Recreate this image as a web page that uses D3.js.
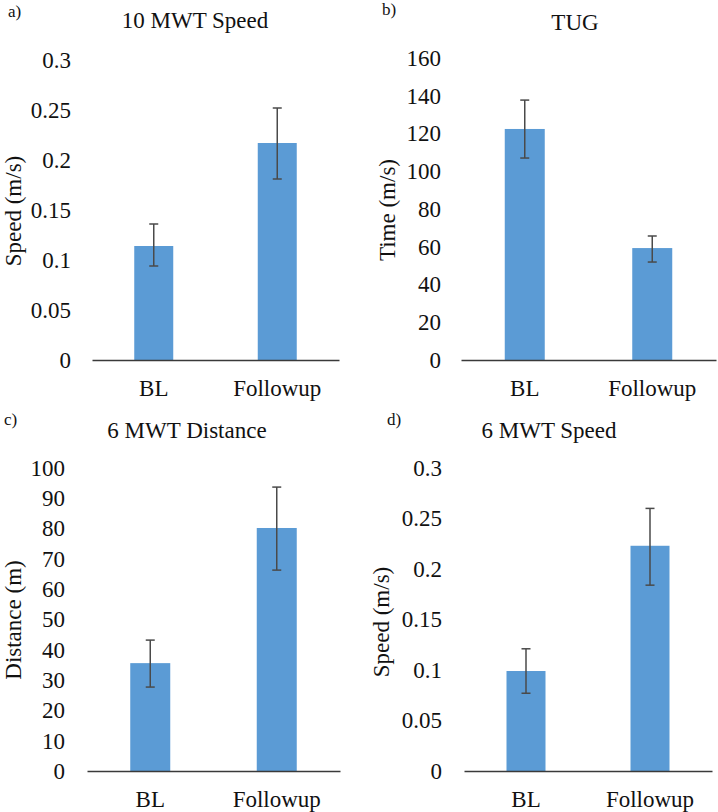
<!DOCTYPE html>
<html>
<head>
<meta charset="utf-8">
<script src="https://cdn.jsdelivr.net/npm/d3@7/dist/d3.min.js"></script>
<style>
  html, body { margin: 0; padding: 0; background: #fff; }
  svg { display: block; }
</style>
</head>
<body>
<svg id="chart" width="718" height="812"></svg>
<script>
// ---- Data ----
const categories = ["BL", "Followup"];

const panelLetters = ["a)", "b)", "c)", "d)"];
const panelTitles = ["10 MWT Speed", "TUG", "6 MWT Distance", "6 MWT Speed"];
const yAxisLabels = ["Speed (m/s)", "Time (m/s)", "Distance (m)", "Speed (m/s)"];

const mwt10Speed = [0.114, 0.217];
const mwt10SpeedErrLow = [0.094, 0.181];
const mwt10SpeedErrHigh = [0.136, 0.252];

const tugTime = [122.4, 59.3];
const tugTimeErrLow = [107, 51.9];
const tugTimeErrHigh = [137.7, 65.7];

const mwt6Distance = [35.6, 80.2];
const mwt6DistanceErrLow = [27.7, 66.3];
const mwt6DistanceErrHigh = [43.2, 93.7];

const mwt6Speed = [0.099, 0.223];
const mwt6SpeedErrLow = [0.077, 0.184];
const mwt6SpeedErrHigh = [0.121, 0.260];

const speedTicks = [0, 0.05, 0.1, 0.15, 0.2, 0.25, 0.3];
const speedTickLabels = ["0", "0.05", "0.1", "0.15", "0.2", "0.25", "0.3"];
const tugTicks = [0, 20, 40, 60, 80, 100, 120, 140, 160];
const tugTickLabels = ["0", "20", "40", "60", "80", "100", "120", "140", "160"];
const distTicks = [0, 10, 20, 30, 40, 50, 60, 70, 80, 90, 100];
const distTickLabels = ["0", "10", "20", "30", "40", "50", "60", "70", "80", "90", "100"];

// ---- Layout ----
const FONT = "Liberation Serif";
const panels = [
  { values: mwt10Speed, lo: mwt10SpeedErrLow, hi: mwt10SpeedErrHigh, ticks: speedTicks, tickLabels: speedTickLabels,
    x0: 92, x1: 339, yTop: 60, yBot: 360, tickRight: 71, titleX: 195, titleY: 28, letterX: 8, letterY: 17,
    ylabX: 21, ylabY: 211, xlabY: 396, barW: 39 },
  { values: tugTime, lo: tugTimeErrLow, hi: tugTimeErrHigh, ticks: tugTicks, tickLabels: tugTickLabels,
    x0: 461, x1: 716, yTop: 58, yBot: 360, tickRight: 441, titleX: 575, titleY: 30, letterX: 382, letterY: 15,
    ylabX: 395, ylabY: 210, xlabY: 396, barW: 40 },
  { values: mwt6Distance, lo: mwt6DistanceErrLow, hi: mwt6DistanceErrHigh, ticks: distTicks, tickLabels: distTickLabels,
    x0: 87, x1: 340, yTop: 468, yBot: 771, tickRight: 65, titleX: 187, titleY: 438, letterX: 4, letterY: 425,
    ylabX: 21, ylabY: 620, xlabY: 807, barW: 40 },
  { values: mwt6Speed, lo: mwt6SpeedErrLow, hi: mwt6SpeedErrHigh, ticks: speedTicks, tickLabels: speedTickLabels,
    x0: 464, x1: 712, yTop: 468, yBot: 771, tickRight: 442, titleX: 549, titleY: 438, letterX: 387, letterY: 425,
    ylabX: 389, ylabY: 622, xlabY: 807, barW: 39 }
];

const svg = d3.select("#chart");
const barColor = "#5B9BD5";
const errColor = "#4a4a4a";
const axisColor = "#3a3a3a";
const textColor = "#111";

panels.forEach((p, i) => {
  const g = svg.append("g");
  const ext = p.ticks[p.ticks.length - 1];
  const y = d3.scaleLinear().domain([0, ext]).range([p.yBot, p.yTop]);
  const x = d3.scaleBand().domain(categories).range([p.x0, p.x1]).paddingInner(0).paddingOuter(0);

  // Y axis: labels only
  const yAxis = d3.axisLeft(y).tickValues(p.ticks).tickFormat((d, k) => p.tickLabels[k]).tickSize(0).tickPadding(0);
  const ya = g.append("g").attr("transform", `translate(${p.tickRight},0)`).call(yAxis);
  ya.select(".domain").remove();
  ya.selectAll("text").style("font-family", FONT).style("font-size", "23px").style("fill", textColor);

  // Bars
  g.selectAll("rect.bar").data(p.values).join("rect")
    .attr("class", "bar")
    .attr("x", (d, k) => x(categories[k]) + x.bandwidth() / 2 - p.barW / 2)
    .attr("width", p.barW)
    .attr("y", d => y(d))
    .attr("height", d => y(0) - y(d))
    .attr("fill", barColor);

  // X axis
  const xAxis = d3.axisBottom(x).tickSize(0).tickPadding(0);
  const xa = g.append("g").attr("transform", `translate(0,${p.yBot})`).call(xAxis);
  xa.select(".domain").attr("stroke", axisColor).attr("stroke-width", 1.3);
  xa.selectAll("text").remove();
  g.selectAll("text.xlab").data(categories).join("text")
    .attr("class", "xlab")
    .attr("x", d => x(d) + x.bandwidth() / 2)
    .attr("y", p.xlabY)
    .attr("text-anchor", "middle")
    .style("font-family", FONT).style("font-size", "23px").style("fill", textColor)
    .text(d => d);

  // Error bars
  const cap = 4.5;
  categories.forEach((c, k) => {
    const cx = x(c) + x.bandwidth() / 2;
    g.append("line").attr("x1", cx).attr("x2", cx).attr("y1", y(p.lo[k])).attr("y2", y(p.hi[k]))
      .attr("stroke", errColor).attr("stroke-width", 1.5);
    [p.lo[k], p.hi[k]].forEach(v => {
      g.append("line").attr("x1", cx - cap).attr("x2", cx + cap).attr("y1", y(v)).attr("y2", y(v))
        .attr("stroke", errColor).attr("stroke-width", 1.5);
    });
  });

  // Title
  g.append("text").attr("x", p.titleX).attr("y", p.titleY).attr("text-anchor", "middle")
    .style("font-family", FONT).style("font-size", "23px").style("fill", textColor).text(panelTitles[i]);
  // Panel letter
  g.append("text").attr("x", p.letterX).attr("y", p.letterY)
    .style("font-family", FONT).style("font-size", "17px").style("fill", textColor).text(panelLetters[i]);
  // Y label
  g.append("text").attr("transform", `translate(${p.ylabX},${p.ylabY}) rotate(-90)`)
    .attr("text-anchor", "middle")
    .style("font-family", FONT).style("font-size", "23px").style("fill", textColor).text(yAxisLabels[i]);
});
</script>
</body>
</html>
